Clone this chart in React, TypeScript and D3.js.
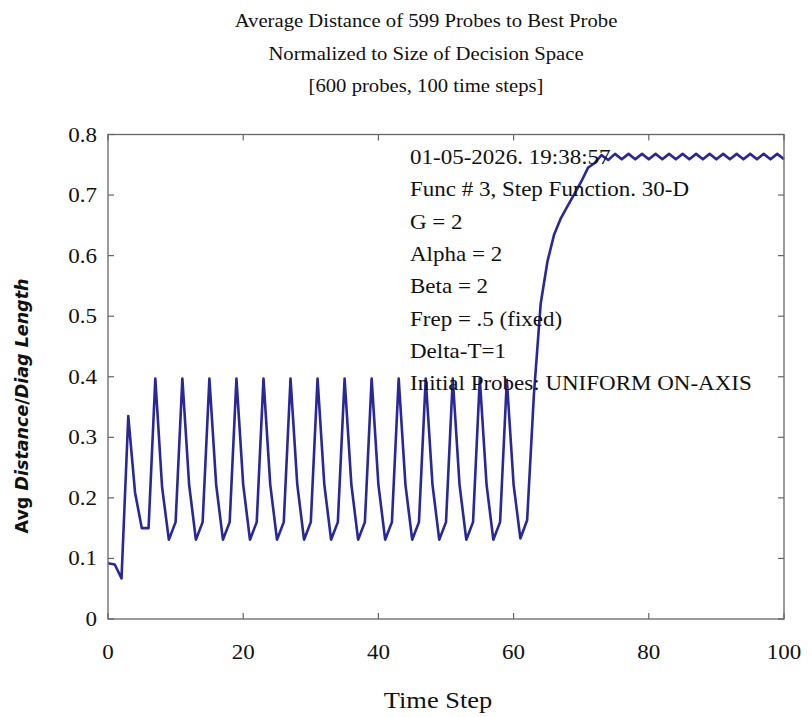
import React from "react";
import * as d3 from "d3";

// time steps 0..100 and the average distance
const steps = d3.range(0, 101);
const avgDist = [
  0.092, 0.090, 0.067, 0.335, 0.209, 0.150, 0.150, 0.397, 0.218, 0.131,
  0.160, 0.397, 0.222, 0.131, 0.160, 0.397, 0.222, 0.131, 0.160, 0.397,
  0.222, 0.131, 0.160, 0.397, 0.222, 0.131, 0.160, 0.397, 0.222, 0.131,
  0.160, 0.397, 0.222, 0.131, 0.160, 0.397, 0.222, 0.131, 0.160, 0.397,
  0.222, 0.131, 0.160, 0.397, 0.222, 0.131, 0.160, 0.397, 0.222, 0.131,
  0.160, 0.397, 0.222, 0.131, 0.160, 0.397, 0.222, 0.131, 0.160, 0.395,
  0.222, 0.133, 0.163, 0.370, 0.520, 0.590, 0.635, 0.662, 0.682, 0.702,
  0.722, 0.745, 0.753, 0.766, 0.758, 0.768, 0.759, 0.768, 0.759, 0.768,
  0.759, 0.768, 0.759, 0.768, 0.759, 0.768, 0.759, 0.768, 0.759, 0.768,
  0.759, 0.768, 0.759, 0.768, 0.759, 0.768, 0.759, 0.768, 0.759, 0.768,
  0.759,
];

const xTicks = [0, 20, 40, 60, 80, 100];
const yTicks = [0, 0.1, 0.2, 0.3, 0.4, 0.5, 0.6, 0.7, 0.8];

const titleLines = [
  "Average Distance of 599 Probes to Best Probe",
  "Normalized to Size of Decision Space",
  "[600 probes, 100 time steps]",
];
const notes = [
  "01-05-2026. 19:38:57",
  "Func # 3, Step Function. 30-D",
  "G = 2",
  "Alpha = 2",
  "Beta = 2",
  "Frep = .5 (fixed)",
  "Delta-T=1",
  "Initial Probes: UNIFORM ON-AXIS",
];

const width = 812,
  height = 717;
const SX = 1.15; // the source picture is a bit wider than tall
const serif = "'Liberation Serif', 'Times New Roman', serif";

const Txt = ({ x, y, size, anchor = "start", children }: any) => (
  <text
    transform={`translate(${x},${y}) scale(${SX},1)`}
    fontSize={size}
    fontFamily={serif}
    textAnchor={anchor}
    fill="#111"
  >
    {children}
  </text>
);

const App = () => {
  const x = d3.scaleLinear().domain([0, 100]).range([108, 784]);
  const y = d3.scaleLinear().domain([0, 0.8]).range([619, 134.5]);
  const [x0, x1] = x.range();
  const [y0, y1] = y.range();
  const tickLen = 6;

  const line = d3
    .line<number>()
    .x((d, i) => x(steps[i]))
    .y((d) => y(d));

  return (
    <svg
      width={width}
      height={height}
      style={{ position: "absolute", left: 0, top: 0, background: "#fff" }}
    >
      {titleLines.map((t, i) => (
        <Txt key={t} x={426} y={27 + i * 32.5} size={18} anchor="middle">
          {t}
        </Txt>
      ))}

      <path d={line(avgDist) || ""} fill="none" stroke="#28289a" strokeWidth={2.6} strokeLinejoin="round" />

      <rect x={x0} y={y1} width={x1 - x0} height={y0 - y1} fill="none" stroke="#666" strokeWidth={1.3} />
      <g stroke="#666" strokeWidth={1.2}>
        {xTicks.map((t) => (
          <g key={t}>
            <line x1={x(t)} x2={x(t)} y1={y0} y2={y0 - tickLen} />
            <line x1={x(t)} x2={x(t)} y1={y1} y2={y1 + tickLen} />
          </g>
        ))}
        {yTicks.map((t) => (
          <g key={t}>
            <line x1={x0} x2={x0 + tickLen} y1={y(t)} y2={y(t)} />
            <line x1={x1} x2={x1 - tickLen} y1={y(t)} y2={y(t)} />
          </g>
        ))}
      </g>

      {xTicks.map((t) => (
        <Txt key={t} x={x(t)} y={659} size={20} anchor="middle">
          {d3.format("d")(t)}
        </Txt>
      ))}
      {yTicks.map((t) => (
        <Txt key={t} x={97} y={y(t) + 7} size={20} anchor="end">
          {t === 0 ? "0" : d3.format(".1f")(t)}
        </Txt>
      ))}

      <Txt x={438} y={708} size={23} anchor="middle">
        Time Step
      </Txt>

      <text
        transform="translate(28,406) rotate(-90)"
        textAnchor="middle"
        fontFamily="'DejaVu Sans', sans-serif"
        fontWeight="bold"
        fontSize={17.5}
        fill="#111"
      >
        <tspan>Avg </tspan>
        <tspan fontStyle="italic">Distance</tspan>
        <tspan>/</tspan>
        <tspan fontStyle="italic">Diag Length</tspan>
      </text>

      {notes.map((t, i) => (
        <Txt key={t} x={410} y={164 + i * 32.3} size={20}>
          {t}
        </Txt>
      ))}
    </svg>
  );
};

export default App;
